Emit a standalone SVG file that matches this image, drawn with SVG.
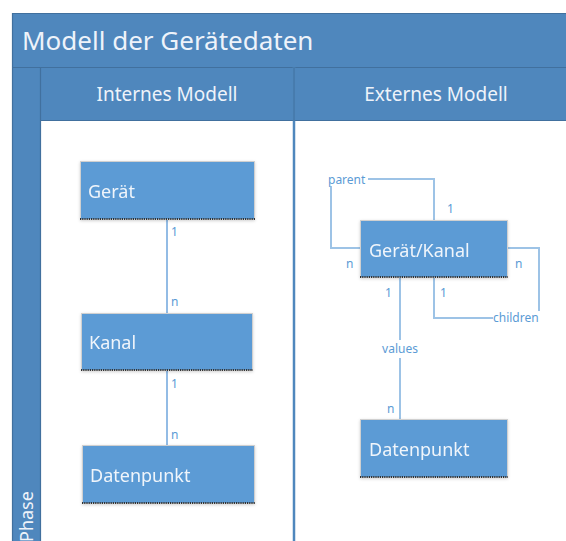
<svg xmlns="http://www.w3.org/2000/svg" width="566" height="541" viewBox="0 0 566 541">
<defs>
<filter id="sh" x="-10%" y="-10%" width="120%" height="130%">
<feDropShadow dx="0" dy="1" stdDeviation="1.5" flood-color="#000" flood-opacity="0.18"/>
</filter>
<style>
.band{fill:#4F87BD}
.sep{stroke:#41709E;stroke-width:1.2;fill:none}
.hdr{font-family:"Noto Sans","Open Sans",sans-serif;fill:#EEF3FA}
.box{fill:#5B9BD5;stroke:#D0D0D0;stroke-width:1}
.dot{stroke:#333;stroke-width:2;stroke-dasharray:1.2 1}
.lbl{font-family:"Noto Sans","Open Sans",sans-serif;font-size:18px;fill:#F0F5FB}
.cL{stroke:#6FA6DC;stroke-width:1.5;fill:none}
.cR{stroke:#9DC3E6;stroke-width:2;fill:none}
.m{font-family:"Noto Sans","Open Sans",sans-serif;font-size:12px;fill:#5B9BD5}
</style>
</defs>
<rect width="566" height="541" fill="#fff"/>
<g id="frame">
<rect class="band" x="12" y="13" width="560" height="540"/>
<rect x="40.5" y="121" width="530" height="430" fill="#fff"/>
<line class="sep" x1="12" y1="13.5" x2="566" y2="13.5"/>
<line class="sep" x1="12.5" y1="13" x2="12.5" y2="541"/>
<line class="sep" x1="12" y1="67.5" x2="566" y2="67.5"/>
<line class="sep" x1="40.5" y1="67" x2="40.5" y2="541"/>
<line class="sep" x1="40" y1="120.5" x2="566" y2="120.5"/>
<line x1="294" y1="67" x2="294" y2="541" stroke="#4F87BD" stroke-width="2.5"/>
<line x1="294" y1="67" x2="294" y2="121" stroke="#41709E" stroke-width="1"/>
<text class="hdr" x="22" y="50" font-size="26">Modell der Gerätedaten</text>
<text class="hdr" x="167" y="101" font-size="19" text-anchor="middle">Internes Modell</text>
<text class="hdr" x="436" y="101" font-size="19" text-anchor="middle">Externes Modell</text>
<text class="hdr" font-size="18" transform="translate(33,542) rotate(-90)">Phase</text>
</g>
<g id="connectors">
<line class="cL" x1="167" y1="220" x2="167" y2="313"/>
<line class="cL" x1="167" y1="371" x2="167" y2="445"/>
<path class="cR" d="M360,248 H331 V186"/>
<path class="cR" d="M368,179 H434 V220"/>
<path class="cR" d="M507,248 H539 V311"/>
<path class="cR" d="M434,278 V318 H493"/>
<path class="cR" d="M400,278 V340"/>
<path class="cR" d="M400,358 V419"/>
<text class="m" x="171" y="236">1</text>
<text class="m" x="171" y="306">n</text>
<text class="m" x="171" y="388">1</text>
<text class="m" x="171" y="439">n</text>
<text class="m" x="328" y="184">parent</text>
<text class="m" x="493" y="322">children</text>
<text class="m" x="400" y="353" text-anchor="middle">values</text>
<text class="m" x="447" y="213">1</text>
<text class="m" x="346" y="268">n</text>
<text class="m" x="515" y="268">n</text>
<text class="m" x="385" y="297">1</text>
<text class="m" x="440" y="297">1</text>
<text class="m" x="387" y="413">n</text>
</g>
<g id="geraet" filter="url(#sh)">
<rect class="box" x="80.5" y="161.5" width="174" height="58"/>
<line class="dot" x1="80" y1="219" x2="255" y2="219"/>
<text class="lbl" x="88" y="198">Gerät</text>
</g>
<g id="kanal" filter="url(#sh)">
<rect class="box" x="81.5" y="313.5" width="171" height="57"/>
<line class="dot" x1="81" y1="370" x2="253" y2="370"/>
<text class="lbl" x="89" y="349">Kanal</text>
</g>
<g id="datenpunkt1" filter="url(#sh)">
<rect class="box" x="82.5" y="445.5" width="172" height="58"/>
<line class="dot" x1="82" y1="503" x2="255" y2="503"/>
<text class="lbl" x="90" y="482">Datenpunkt</text>
</g>
<g id="geraetkanal" filter="url(#sh)">
<rect class="box" x="360.5" y="220.5" width="147" height="57"/>
<line class="dot" x1="360" y1="277" x2="508" y2="277"/>
<text class="lbl" x="369" y="257">Gerät/Kanal</text>
</g>
<g id="datenpunkt2" filter="url(#sh)">
<rect class="box" x="360.5" y="419.5" width="147" height="58"/>
<line class="dot" x1="360" y1="477" x2="508" y2="477"/>
<text class="lbl" x="369" y="456">Datenpunkt</text>
</g>
</svg>
